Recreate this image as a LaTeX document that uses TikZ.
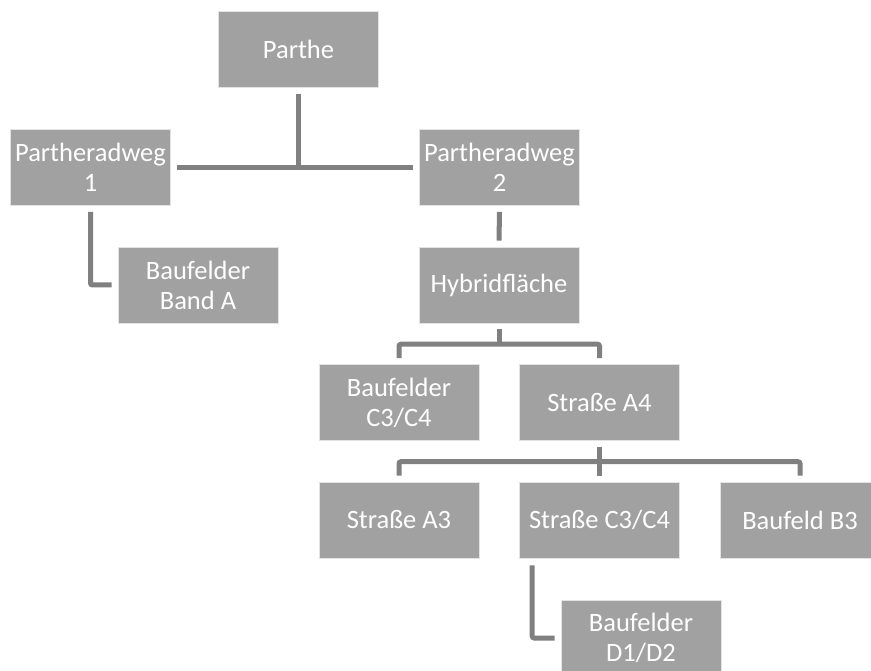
\documentclass[tikz,border=0pt]{standalone}
\usepackage{fontspec}
\setmainfont{Carlito}
\definecolor{boxgray}{RGB}{161,161,162}
\definecolor{linegray}{RGB}{128,128,128}
\begin{document}
\begin{tikzpicture}[x=1pt,y=-1pt,
  box/.style={fill=boxgray, draw=white!70!boxgray, line width=0.6pt,
    minimum width=160pt, minimum height=76pt, inner sep=0pt,
    text=white, align=center, font=\fontsize{26.5}{30}\selectfont},
  conn/.style={draw=linegray, line width=5pt, rounded corners=2pt}]
\clip (0,0) rectangle (871,671);
\fill[white] (0,0) rectangle (871,671);
\node[box] (parthe) at (298.5,49.5) {Parthe};
\node[box] (pr1) at (90.5,167.5) {Partheradweg\\1};
\node[box] (pr2) at (499.5,167.5) {Partheradweg\\2};
\node[box] (bandA) at (198,285) {Baufelder\\Band A};
\node[box] (hybrid) at (499,285) {Hybridfläche};
\node[box] (bc34) at (399,402.5) {Baufelder\\C3/C4};
\node[box] (sa4) at (599.5,402.5) {Straße A4};
\node[box] (sa3) at (399,520) {Straße A3};
\node[box] (sc34) at (599.5,520) {Straße C3/C4};
\node[box] (bb3) at (800,520) {Baufeld B3};
\node[box] (bd12) at (641,638) {Baufelder\\D1/D2};
% connectors
\draw[conn] ([yshift=-6pt]parthe.south) -- (parthe.south |- pr1.east);
\draw[conn] ([xshift=6pt]pr1.east) -- ([xshift=-6pt]pr2.west);
\draw[conn] ([yshift=-6pt]pr1.south) |- ([xshift=-6pt]bandA.west);
\draw[conn] ([yshift=-6pt]pr2.south) -- ([yshift=6pt]hybrid.north);
\draw[conn] ([yshift=-6pt]hybrid.south) -- ++(0,14);
\draw[conn] ([yshift=6pt]bc34.north) -- ++(0,-14) -| ([yshift=6pt]sa4.north);
\draw[conn] ([yshift=-6pt]sa4.south) -- ([yshift=6pt]sc34.north);
\draw[conn] ([yshift=6pt]sa3.north) -- ++(0,-14) -| ([yshift=6pt]bb3.north);
\draw[conn] ([xshift=13pt,yshift=-7pt]sc34.south west) |- ([xshift=-6pt]bd12.west);
\end{tikzpicture}
\end{document}
